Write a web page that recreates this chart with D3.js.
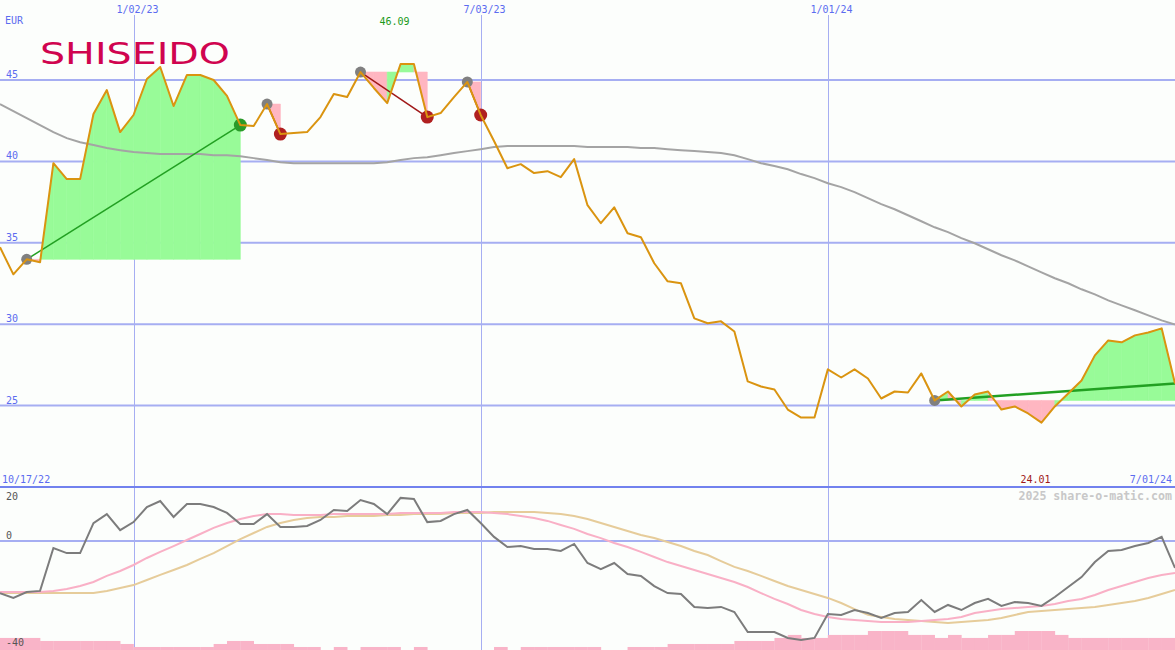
<!DOCTYPE html>
<html><head><meta charset="utf-8">
<script src="https://cdn.jsdelivr.net/npm/d3@7"></script>
<style>html,body{margin:0;padding:0;background:#fcfefc;} svg{display:block}</style>
</head><body><svg id="c" width="1175" height="650"></svg>
<script>
// ---------- DATA ----------
const startDate = "2022-10-24"; // first weekly close shown at the left edge
const priceVals = [
 34.72,33.06,33.98,33.80,39.89,38.91,38.91,42.91,44.38,41.80,
 42.85,45.06,45.80,43.40,45.31,45.31,45.00,44.02,42.23,42.17,
 43.52,41.68,41.74,41.80,42.72,44.14,43.95,45.49,44.51,43.58,
 45.98,45.98,42.72,42.97,43.95,44.88,42.85,41.25,39.58,39.83,
 39.28,39.40,39.03,40.14,37.31,36.20,37.18,35.58,35.34,33.74,
 32.63,32.51,30.35,30.05,30.17,29.55,26.48,26.17,25.98,24.75,
 24.26,24.26,27.22,26.72,27.22,26.66,25.43,25.86,25.80,26.97,
 25.31,25.86,24.94,25.68,25.86,24.75,24.94,24.51,23.95,24.94,
 25.74,26.54,28.08,29.00,28.88,29.31,29.49,29.74,26.35];
const maVals = [
 43.52,43.09,42.66,42.23,41.80,41.43,41.18,41.00,40.82,40.69,
 40.57,40.51,40.45,40.45,40.45,40.45,40.38,40.38,40.32,40.20,
 40.08,39.95,39.89,39.89,39.89,39.89,39.89,39.89,39.89,39.95,
 40.08,40.20,40.26,40.38,40.51,40.63,40.75,40.88,40.94,40.94,
 40.94,40.94,40.94,40.94,40.88,40.88,40.88,40.88,40.82,40.82,
 40.75,40.69,40.63,40.57,40.51,40.38,40.14,39.89,39.71,39.52,
 39.22,38.97,38.66,38.42,38.11,37.74,37.37,37.06,36.69,36.32,
 35.95,35.65,35.28,34.97,34.60,34.23,33.92,33.55,33.18,32.82,
 32.51,32.14,31.83,31.46,31.15,30.85,30.54,30.23,29.98];
const oscVals = [
 -26.7,-29.2,-26.2,-25.6,-3.6,-6.2,-6.2,9.2,13.8,5.6,
 9.7,17.4,20.5,12.3,19.0,19.0,17.4,14.4,8.7,8.7,
 13.8,7.2,7.2,7.7,10.8,15.9,15.4,21.0,19.0,13.8,
 22.1,21.5,9.7,10.3,13.8,15.9,9.2,2.1,-3.1,-2.6,
 -4.1,-4.1,-5.1,-1.5,-11.3,-14.4,-11.3,-16.9,-17.9,-23.1,
 -26.7,-27.2,-33.8,-34.4,-33.8,-36.4,-46.7,-46.7,-46.7,-49.7,
 -50.8,-49.7,-37.4,-37.9,-35.4,-36.9,-39.5,-36.9,-36.4,-30.3,
 -36.4,-32.8,-35.4,-31.8,-29.7,-33.3,-31.3,-31.8,-33.3,-28.7,
 -23.6,-18.5,-10.8,-5.1,-4.6,-2.6,-1.0,2.1,-13.8];
const fastVals = [
 -26.2,-26.2,-26.2,-26.2,-25.6,-24.6,-23.1,-21.0,-17.9,-15.4,
 -12.3,-8.7,-5.6,-2.6,0.5,3.6,6.7,9.2,11.3,12.8,
 13.8,13.8,13.3,13.3,13.3,13.8,13.8,13.8,13.8,13.8,
 14.4,14.4,14.4,14.4,14.9,14.9,14.9,14.4,13.8,12.8,
 11.8,10.3,8.2,6.2,3.6,1.5,-1.0,-3.1,-5.6,-8.2,
 -10.8,-12.8,-14.9,-16.9,-19.0,-21.0,-23.6,-26.7,-29.7,-32.3,
 -35.4,-37.4,-39.0,-40.0,-40.5,-41.0,-41.5,-41.5,-41.5,-41.0,
 -40.5,-40.0,-39.0,-36.9,-35.9,-34.9,-34.4,-33.8,-33.3,-32.3,
 -30.8,-29.7,-27.7,-25.1,-23.1,-21.0,-19.0,-17.4,-16.4];
const slowVals = [
 -26.7,-26.7,-26.7,-26.7,-26.7,-26.7,-26.7,-26.7,-25.6,-24.1,
 -22.6,-20.0,-17.4,-14.9,-12.3,-9.2,-6.2,-2.6,1.0,4.1,
 7.2,9.2,10.8,11.8,12.3,12.3,12.8,12.8,12.8,13.3,
 13.3,13.8,13.8,13.8,14.4,14.4,14.4,14.9,14.9,14.9,
 14.9,14.4,13.8,12.8,11.3,9.2,7.2,5.1,3.1,1.5,
 -0.5,-2.6,-5.1,-7.2,-10.3,-13.3,-15.4,-17.9,-20.5,-23.1,
 -25.1,-27.2,-29.2,-31.8,-34.9,-37.9,-39.0,-40.0,-40.5,-41.0,
 -41.5,-42.1,-41.5,-41.0,-40.5,-39.5,-37.9,-36.4,-35.9,-35.4,
 -34.9,-34.4,-33.8,-32.8,-31.8,-30.8,-29.2,-27.2,-25.1];
const volVals = [
 4,4,4,3,3,3,3,3,3,2,
 1,1,1,1,1,1,2,3,3,2,
 2,2,1,1,0,1,0,1,1,1,
 0,1,0,0,0,0,0,1,0,1,
 1,1,1,1,1,0,0,1,1,1,
 2,2,2,2,2,3,3,3,4,5,
 4,4,5,5,5,6.3,6.3,6.3,5,5,
 4,5,4,4,5,5,6.3,6.3,6.3,5,
 4,4,4,4,4,4,4,4,4];
const priceTicks = [45,40,35,30,25];
const oscTicks = [20,0,-40];
const dateTicks = ["2023-01-02","2023-07-03","2024-01-01"];
const dateTickLabels = ["1/02/23","7/03/23","1/01/24"];
const signalStart = [2,20,27,35,70];
const signalEnd = [18,21,32,36,88];
const currency = "EUR";
const firstDateLabel = "10/17/22";
const lastDateLabel = "7/01/24";
const highLabel = "46.09", highIndex = 30;
const lowLabel = "24.01", lowIndex = 78;
const brand = "SHISEIDO";
const credit = "2025 share-o-matic.com";

// ---------- SETUP ----------
const W = 1175, H = 650;
const svg = d3.select("#c");
const start = d3.timeParse("%Y-%m-%d")(startDate);
const dates = priceVals.map((_, i) => d3.timeDay.offset(start, 7 * i));
const x = d3.scaleTime().domain([dates[0], dates[dates.length - 1]]).range([0, W]);
const y = d3.scaleLinear().domain([25, 45]).range([405.5, 80]);
const yo = d3.scaleLinear().domain([-40, 20]).range([619, 502]);
const yv = d3.scaleLinear().domain([0, 6.3]).range([650, 631]);
const mono = "'DejaVu Sans Mono', monospace";
const gridC = "#a6aef2", axisBlue = "#5b6cf0";

svg.append("rect").attr("width", W).attr("height", H).attr("fill", "#fcfefc");

// vertical date grid + labels
dateTicks.forEach((d, k) => {
  const xx = Math.round(x(d3.timeParse("%Y-%m-%d")(d))) + 0.5;
  svg.append("line").attr("x1", xx).attr("x2", xx).attr("y1", 15).attr("y2", H)
    .attr("stroke", gridC).attr("stroke-width", 1);
  svg.append("text").attr("x", xx + 3).attr("y", 13).attr("text-anchor", "middle")
    .attr("font-family", mono).attr("font-size", 10).attr("fill", axisBlue).text(dateTickLabels[k]);
});
// horizontal price grid
priceTicks.forEach(t => {
  svg.append("line").attr("x1", 0).attr("x2", W).attr("y1", y(t)).attr("y2", y(t))
    .attr("stroke", gridC).attr("stroke-width", 2);
  svg.append("text").attr("x", 6).attr("y", y(t) - 2).attr("font-family", mono)
    .attr("font-size", 10).attr("fill", axisBlue).text(t);
});
svg.append("text").attr("x", 5).attr("y", 24).attr("font-family", mono).attr("font-size", 10)
  .attr("fill", axisBlue).text(currency);

// brand
svg.append("text").attr("x", 40).attr("y", 64).attr("font-family", "'DejaVu Sans', sans-serif")
  .attr("font-size", 31).attr("textLength", 190).attr("lengthAdjust", "spacingAndGlyphs")
  .attr("fill", "#d0044f").text(brand);

// signal fills
const green = "#98fb98", pink = "#ffb6c1";
signalStart.forEach((s, k) => {
  const e = signalEnd[k];
  const base = priceVals[s];
  for (let i = s; i < e; i++) {
    const col = priceVals[i + 1] >= base ? green : pink;
    const pts = [[x(dates[i]), y(base)], [x(dates[i]), y(priceVals[i])],
                 [x(dates[i + 1]), y(priceVals[i + 1])], [x(dates[i + 1]), y(base)]];
    svg.append("path").attr("d", "M" + pts.map(p => p.join(",")).join("L") + "Z")
      .attr("fill", col).attr("stroke", col).attr("stroke-width", 0.6);
  }
});

// moving average
svg.append("path").datum(maVals).attr("fill", "none").attr("stroke", "#a4a4a4").attr("stroke-width", 2)
  .attr("d", d3.line().x((d, i) => x(dates[i])).y(d => y(d)));

// trend lines + dots
signalStart.forEach((s, k) => {
  const e = signalEnd[k];
  const up = priceVals[e] >= priceVals[s];
  const last = e === priceVals.length - 1;
  svg.append("line").attr("x1", x(dates[s])).attr("y1", y(priceVals[s]))
    .attr("x2", x(dates[e])).attr("y2", y(priceVals[e]))
    .attr("stroke", up ? "#22a022" : "#a01818").attr("stroke-width", last ? 2.5 : 1.5);
});
signalStart.forEach((s, k) => {
  const e = signalEnd[k];
  const up = priceVals[e] >= priceVals[s];
  svg.append("circle").attr("cx", x(dates[s])).attr("cy", y(priceVals[s])).attr("r", 5.5).attr("fill", "#808080");
  if (e !== priceVals.length - 1)
    svg.append("circle").attr("cx", x(dates[e])).attr("cy", y(priceVals[e])).attr("r", 6.5)
      .attr("fill", up ? "#2a9a2a" : "#b02020");
});

// price line
svg.append("path").datum(priceVals).attr("fill", "none").attr("stroke", "#da9410").attr("stroke-width", 2)
  .attr("stroke-linejoin", "round")
  .attr("d", d3.line().x((d, i) => x(dates[i])).y(d => y(d)));

// high / low labels
svg.append("text").attr("x", x(dates[highIndex]) - 6).attr("y", 25).attr("text-anchor", "middle")
  .attr("font-family", mono).attr("font-size", 10).attr("fill", "#1a9a1a").text(highLabel);
svg.append("text").attr("x", x(dates[lowIndex]) - 6).attr("y", 483).attr("text-anchor", "middle")
  .attr("font-family", mono).attr("font-size", 10).attr("fill", "#a01818").text(lowLabel);
svg.append("text").attr("x", 2).attr("y", 483).attr("font-family", mono).attr("font-size", 10)
  .attr("fill", axisBlue).text(firstDateLabel);
svg.append("text").attr("x", W - 3).attr("y", 483).attr("text-anchor", "end").attr("font-family", mono)
  .attr("font-size", 10).attr("fill", axisBlue).text(lastDateLabel);

// ---------- LOWER PANEL ----------
svg.append("rect").attr("x", 0).attr("y", 488).attr("width", W).attr("height", H - 488).attr("fill", "#fcfefc").attr("opacity", 0);
svg.append("line").attr("x1", 0).attr("x2", W).attr("y1", 487).attr("y2", 487)
  .attr("stroke", "#7282ee").attr("stroke-width", 2);
svg.append("line").attr("x1", 0).attr("x2", W).attr("y1", yo(0)).attr("y2", yo(0))
  .attr("stroke", gridC).attr("stroke-width", 2);
svg.append("text").attr("x", W - 3).attr("y", 500).attr("text-anchor", "end").attr("font-family", mono)
  .attr("font-weight", "bold").attr("font-size", 11.6).attr("fill", "#c8c8c8").text(credit);

// volume bars
svg.append("g").selectAll("rect").data(volVals).join("rect")
  .attr("x", (d, i) => x(dates[i]))
  .attr("width", (d, i) => x(d3.timeDay.offset(dates[i], 7)) - x(dates[i]) + 0.3)
  .attr("y", d => yv(d)).attr("height", d => yv(0) - yv(d)).attr("fill", "#f9b4c8");

oscTicks.forEach((t, k) => {
  const ty = k === oscTicks.length - 1 ? H - 4 : yo(t) - 2;
  svg.append("text").attr("x", 6).attr("y", ty).attr("font-family", mono).attr("font-size", 10)
    .attr("fill", "#555").text(t);
});

const oline = d3.line().x((d, i) => x(dates[i])).y(d => yo(d));
svg.append("path").datum(slowVals).attr("fill", "none").attr("stroke", "#e6cc9a").attr("stroke-width", 2).attr("d", oline);
svg.append("path").datum(fastVals).attr("fill", "none").attr("stroke", "#f9b0c6").attr("stroke-width", 2).attr("d", oline);
svg.append("path").datum(oscVals).attr("fill", "none").attr("stroke", "#7c7c7c").attr("stroke-width", 2).attr("d", oline);
</script></body></html>
